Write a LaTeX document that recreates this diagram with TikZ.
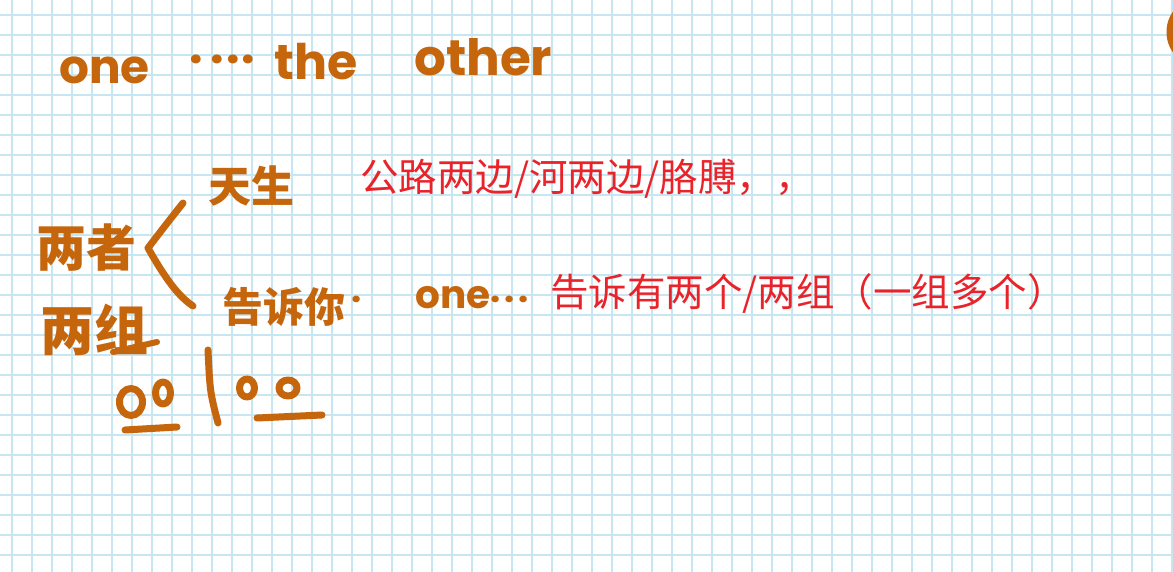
\documentclass[tikz,border=0pt]{standalone}
\usepackage{fontspec}
\newfontfamily\cjk{Noto Sans CJK SC}
\newfontfamily\hand{Poppins}
\definecolor{hw}{RGB}{197,101,12}
\definecolor{rd}{RGB}{234,34,42}
\definecolor{gridc}{RGB}{198,230,242}
\begin{document}
\begin{tikzpicture}[x=1pt,y=-1pt,
  gridline/.style={gridc, line width=1.1pt},
  pen/.style={hw, line width=7pt, line cap=round, line join=round},
  handtxt/.style={hw, inner sep=0pt, anchor=base west, font=\hand\bfseries\fontsize{48}{48}\selectfont},
  handcjk/.style={hw, inner sep=0pt, anchor=base west, font=\cjk\bfseries\fontsize{46}{46}\selectfont},
  redtxt/.style={rd, inner sep=0pt, anchor=base west, font=\cjk\fontsize{38.5}{38.5}\selectfont}]
\fill[white] (0,0) rectangle (1173,572);
\useasboundingbox (0,0) rectangle (1173,572);
\foreach \x in {12,32,...,1172} \draw[gridline] (\x,0) -- (\x,572);
\foreach \y in {15,35,...,555} \draw[gridline] (0,\y) -- (1173,\y);
% top line
\node[handtxt, font=\hand\bfseries\fontsize{47}{47}\selectfont] (one) at (59,84) {one};
\node[handtxt] (dots) at (189,64) {.\hspace{8pt}.\hspace{2pt}.\hspace{2pt}.};
\node[handtxt, font=\hand\bfseries\fontsize{49}{49}\selectfont] (the) at (274,80) {the};
\node[handtxt, font=\hand\bfseries\fontsize{50}{50}\selectfont] (other) at (414,76) {other};
% left
\node[handcjk, font=\cjk\bfseries\fontsize{50}{50}\selectfont] (lz) at (36,267) {两者};
\node[handcjk, font=\cjk\bfseries\fontsize{54}{54}\selectfont] (lzu) at (40,350) {两组};
\draw[pen, line width=6pt] (113,352) -- (157,342);
\draw[pen] (183,203) .. controls (168,222) .. (148,248) .. controls (165,278) and (178,296) .. (193,306);
\node[handcjk, font=\cjk\bfseries\fontsize{43}{43}\selectfont] (ts) at (208,203) {天生};
\node[handcjk, font=\cjk\bfseries\fontsize{41}{41}\selectfont] (gsn) at (222,322) {告诉你};
\node[handtxt, font=\hand\bfseries\fontsize{36}{36}\selectfont] (gdot) at (351,302) {.};
\node[handtxt, font=\hand\bfseries\fontsize{39}{39}\selectfont] (one2) at (415,308) {one};
\node[handtxt, font=\hand\bfseries\fontsize{36}{36}\selectfont] (dots2) at (490,302) {.\hspace{4pt}.\hspace{4pt}.};
% groups
\draw[pen] (131,402) ellipse [x radius=11.5, y radius=13.5];
\draw[pen] (163,393) ellipse [x radius=7.5, y radius=11];
\draw[pen] (125,430) -- (177,427);
\draw[pen] (208,350) .. controls (210,392) .. (218,423);
\draw[pen] (247,388) ellipse [x radius=7.5, y radius=9];
\draw[pen] (288,388) ellipse [x radius=9, y radius=8];
\draw[pen] (257,418) -- (322,415);
% red notes
\node[redtxt] (r1) at (360,192) {公路两边/河两边/胳膊，，};
\node[redtxt] (r2) at (550,306) {告诉有两个/两组（一组多个）};
% partial mark at top right
\begin{scope}
\clip (0,0) rectangle (1173,572);
\draw[pen] (1182,8) .. controls (1166,18) and (1166,46) .. (1182,56);
\end{scope}
\end{tikzpicture}
\end{document}
